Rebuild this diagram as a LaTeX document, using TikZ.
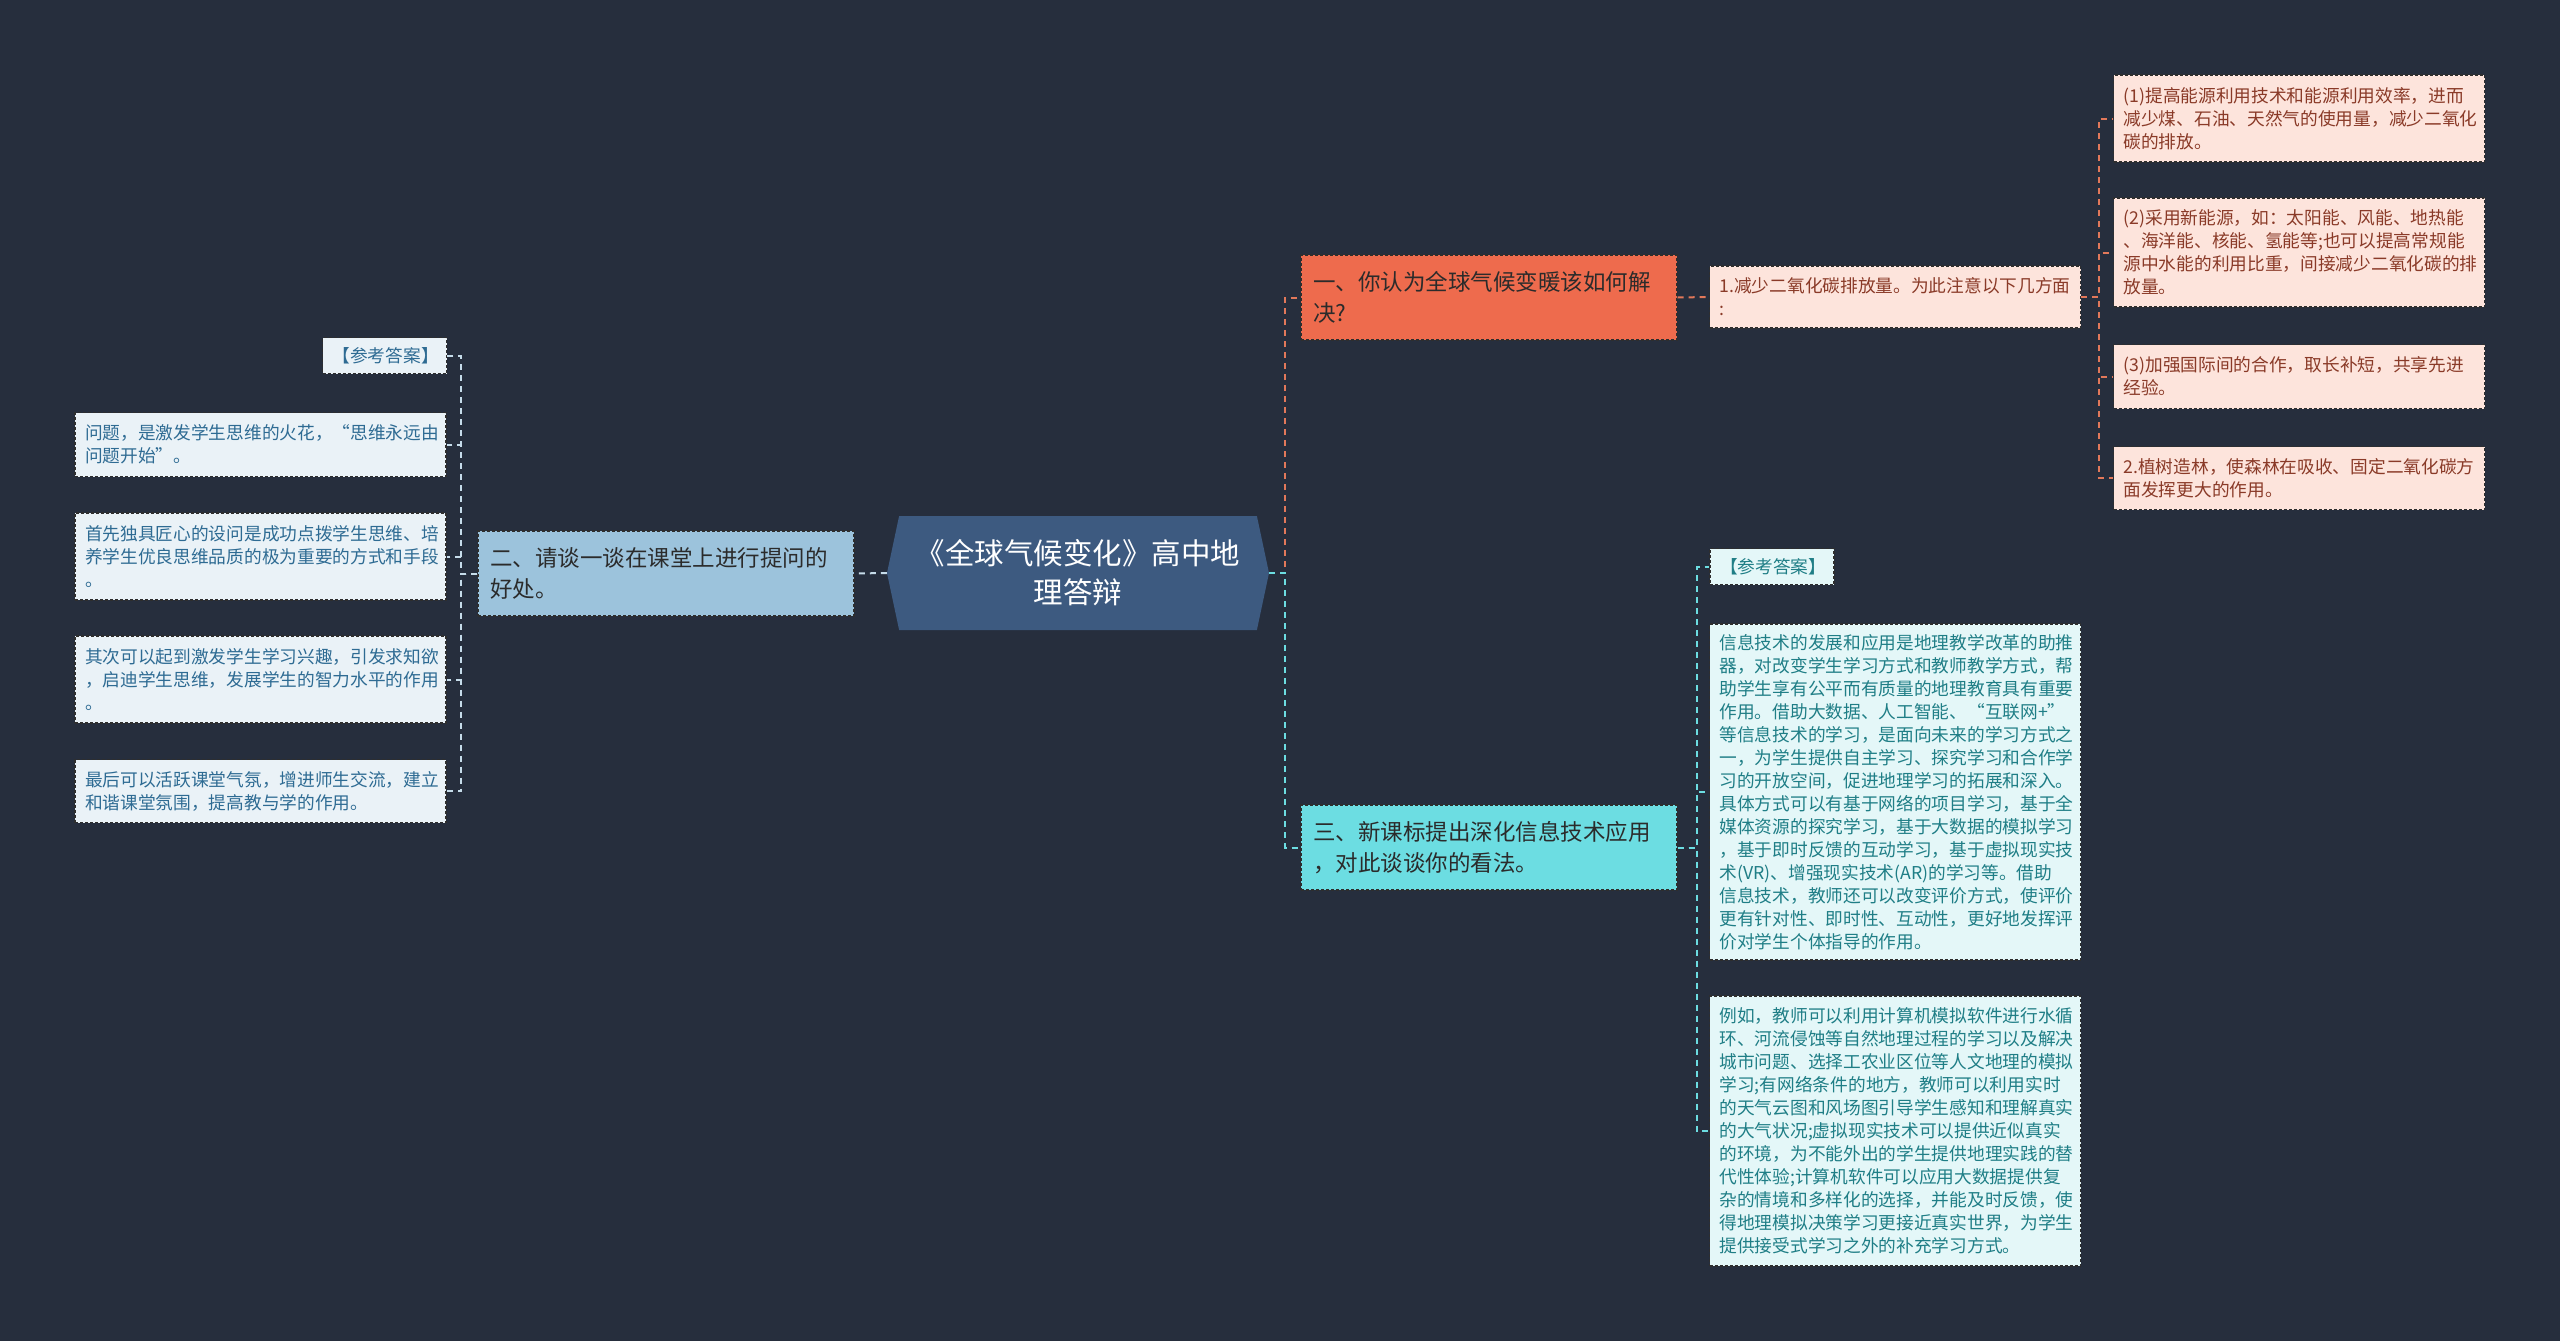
\documentclass[tikz,border=0pt]{standalone}
\usepackage{fontspec}
\newfontfamily\cjk{Noto Sans CJK SC}
\usetikzlibrary{shapes.symbols}
\definecolor{mapBg}{HTML}{262E3D}
\definecolor{mapRoot}{HTML}{3D5A80}
\definecolor{mapRed}{HTML}{EE6B4D}
\definecolor{mapRedLine}{HTML}{E2785A}
\definecolor{mapCyan}{HTML}{6CDDE2}
\definecolor{mapSky}{HTML}{9CC3DC}
\definecolor{mapSkyLine}{HTML}{C6DCEA}
\definecolor{mapPink}{HTML}{FDE4DC}
\definecolor{mapPinkTxt}{HTML}{8A3A28}
\definecolor{mapIce}{HTML}{E4F7F8}
\definecolor{mapIceTxt}{HTML}{1F7E86}
\definecolor{mapPale}{HTML}{EAF2F7}
\definecolor{mapPaleTxt}{HTML}{2E6B93}
\definecolor{mapEdge}{HTML}{2E2E2E}
\definecolor{mapInk}{HTML}{2B2B2B}

\begin{document}
\begin{tikzpicture}[x=1pt,y=-1pt,font=\cjk,
    rootbox/.style={signal,signal to=east and west,signal pointer angle=156,fill=mapRoot,text=white,
      minimum width=382pt,minimum height=114pt,text width=330pt,align=center,inner sep=0pt,
      font=\cjk\fontsize{29.5}{39}\selectfont},
    qbox/.style={draw=mapEdge,dash pattern=on 3pt off 2pt,line width=1.2pt,text=mapInk,
      minimum width=376pt,minimum height=85pt,text width=352pt,inner xsep=12pt,align=left,
      font=\cjk\fontsize{22.5}{31}\selectfont},
    abox/.style={draw=mapEdge,dash pattern=on 3pt off 2pt,line width=1.2pt,
      minimum width=371pt,text width=351pt,inner xsep=10pt,align=left,
      font=\cjk\fontsize{17.7}{23}\selectfont},
    tagbox/.style={abox,minimum width=124pt,text width=104pt,minimum height=36pt,align=center},
    redlink/.style={draw=mapRedLine,line width=2pt,dash pattern=on 6pt off 5pt},
    cyanlink/.style={draw=mapCyan,line width=2pt,dash pattern=on 6pt off 5pt},
    skylink/.style={draw=mapSkyLine,line width=2pt,dash pattern=on 6pt off 5pt}]
  \fill[mapBg] (0,0) rectangle (2560,1341);
  \useasboundingbox (0,0) rectangle (2560,1341);

  % centre
  \node[rootbox] (root) at (1078,573) {《全球气候变化》高中地\\理答辩};

  % questions
  \node[qbox,fill=mapRed] (b1) at (1489,297.5) {一、你认为全球气候变暖该如何解\\决?};
  \node[qbox,fill=mapSky] (b2) at (666,573.5) {二、请谈一谈在课堂上进行提问的\\好处。};
  \node[qbox,fill=mapCyan] (b3) at (1489,847.5) {三、新课标提出深化信息技术应用\\，对此谈谈你的看法。};

  % answers to the first question
  \node[abox,fill=mapPink,text=mapPinkTxt,minimum height=62pt] (c1) at (1895,297)
    {1.减少二氧化碳排放量。为此注意以下几方面\\:};
  \node[abox,fill=mapPink,text=mapPinkTxt,minimum height=87pt] (g1) at (2299,118.5)
    {(1)提高能源利用技术和能源利用效率，进而\\减少煤、石油、天然气的使用量，减少二氧化\\碳的排放。};
  \node[abox,fill=mapPink,text=mapPinkTxt,minimum height=109pt] (g2) at (2299,252.5)
    {(2)采用新能源，如：太阳能、风能、地热能\\、海洋能、核能、氢能等;也可以提高常规能\\源中水能的利用比重，间接减少二氧化碳的排\\放量。};
  \node[abox,fill=mapPink,text=mapPinkTxt,minimum height=64pt] (g3) at (2299,376.5)
    {(3)加强国际间的合作，取长补短，共享先进\\经验。};
  \node[abox,fill=mapPink,text=mapPinkTxt,minimum height=63pt] (g4) at (2299,478)
    {2.植树造林，使森林在吸收、固定二氧化碳方\\面发挥更大的作用。};

  % answers to the second question
  \node[tagbox,fill=mapPale,text=mapPaleTxt] (l0) at (384.5,355.5) {【参考答案】};
  \node[abox,fill=mapPale,text=mapPaleTxt,minimum height=64pt] (l1) at (260.5,444.5)
    {问题，是激发学生思维的火花，“思维永远由\\问题开始”。};
  \node[abox,fill=mapPale,text=mapPaleTxt,minimum height=87pt] (l2) at (260.5,556.5)
    {首先独具匠心的设问是成功点拨学生思维、培\\养学生优良思维品质的极为重要的方式和手段\\。};
  \node[abox,fill=mapPale,text=mapPaleTxt,minimum height=87pt] (l3) at (260.5,679.5)
    {其次可以起到激发学生学习兴趣，引发求知欲\\，启迪学生思维，发展学生的智力水平的作用\\。};
  \node[abox,fill=mapPale,text=mapPaleTxt,minimum height=63pt] (l4) at (260.5,791)
    {最后可以活跃课堂气氛，增进师生交流，建立\\和谐课堂氛围，提高教与学的作用。};

  % answers to the third question
  \node[tagbox,fill=mapIce,text=mapIceTxt] (r0) at (1772,566.5) {【参考答案】};
  \node[abox,fill=mapIce,text=mapIceTxt,minimum height=336pt] (r1) at (1895,792)
    {信息技术的发展和应用是地理教学改革的助推\\器，对改变学生学习方式和教师教学方式，帮\\助学生享有公平而有质量的地理教育具有重要\\作用。借助大数据、人工智能、“互联网+”\\等信息技术的学习，是面向未来的学习方式之\\一，为学生提供自主学习、探究学习和合作学\\习的开放空间，促进地理学习的拓展和深入。\\具体方式可以有基于网络的项目学习，基于全\\媒体资源的探究学习，基于大数据的模拟学习\\，基于即时反馈的互动学习，基于虚拟现实技\\术(VR)、增强现实技术(AR)的学习等。借助\\信息技术，教师还可以改变评价方式，使评价\\更有针对性、即时性、互动性，更好地发挥评\\价对学生个体指导的作用。};
  \node[abox,fill=mapIce,text=mapIceTxt,minimum height=270pt] (r2) at (1895,1131)
    {例如，教师可以利用计算机模拟软件进行水循\\环、河流侵蚀等自然地理过程的学习以及解决\\城市问题、选择工农业区位等人文地理的模拟\\学习;有网络条件的地方，教师可以利用实时\\的天气云图和风场图引导学生感知和理解真实\\的大气状况;虚拟现实技术可以提供近似真实\\的环境，为不能外出的学生提供地理实践的替\\代性体验;计算机软件可以应用大数据提供复\\杂的情境和多样化的选择，并能及时反馈，使\\得地理模拟决策学习更接近真实世界，为学生\\提供接受式学习之外的补充学习方式。};

  % connectors
  \draw[redlink] (root.east) -- ++(16,0) |- (b1.west);
  \draw[cyanlink] (root.east) -- ++(16,0) |- (b3.west);
  \draw[skylink] (root.west) -- (b2.east);
  \draw[redlink] (b1.east) -- (c1.west);
  \foreach \g in {g1,g2,g3,g4}
    \draw[redlink] (c1.east) -- ++(18,0) |- (\g.west);
  \foreach \l in {l0,l1,l2,l3,l4}
    \draw[skylink] (b2.west) -- ++(-16,0) |- (\l.east);
  \foreach \r in {r0,r1,r2}
    \draw[cyanlink] (b3.east) -- ++(19,0) |- (\r.west);
\end{tikzpicture}
\end{document}
